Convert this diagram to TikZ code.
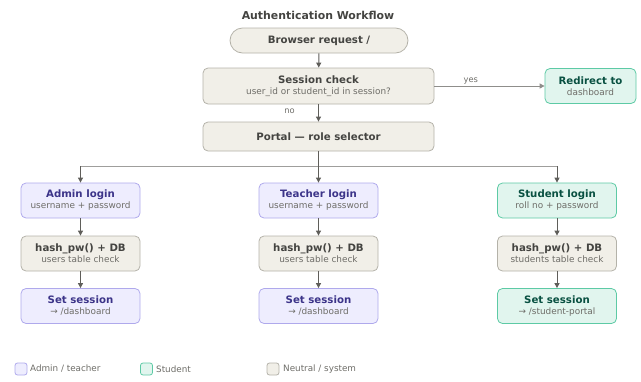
\documentclass[tikz,border=0pt]{standalone}
\usepackage{fontspec}
\setmainfont{DejaVu Sans}
\usetikzlibrary{arrows.meta}

\definecolor{neutralfill}{HTML}{F1EFE8}
\definecolor{neutralline}{HTML}{B4B2A9}
\definecolor{neutraltext}{HTML}{444441}
\definecolor{subtext}{HTML}{6E6D68}
\definecolor{adminfill}{HTML}{EEEDFE}
\definecolor{adminline}{HTML}{AFA9EC}
\definecolor{admintext}{HTML}{3C3489}
\definecolor{studentfill}{HTML}{E1F5EE}
\definecolor{studentline}{HTML}{5DCAA5}
\definecolor{studenttext}{HTML}{085041}
\definecolor{arrowgray}{HTML}{5F5E5A}

\newcommand{\boxtxt}[2]{{\fontsize{10.2}{11}\selectfont\bfseries #1}\\[-1pt]{\fontsize{8.9}{10}\selectfont\color{subtext}#2}}

\begin{document}
\begin{tikzpicture}[x=1pt,y=-1pt,
    base/.style={draw, line width=0.8pt, rounded corners=5pt, align=center,
        minimum width=119pt, minimum height=35pt, inner sep=1pt},
    neutral/.style={base, fill=neutralfill, draw=neutralline, text=neutraltext},
    admin/.style={base, fill=adminfill, draw=adminline, text=admintext},
    student/.style={base, fill=studentfill, draw=studentline, text=studenttext},
    flow/.style={draw=arrowgray, line width=1pt, -{Triangle[length=5pt,width=5pt]}},
    bus/.style={draw=arrowgray!60, line width=0.8pt},
    lbl/.style={font=\fontsize{8.3}{9}\selectfont, text=subtext},
    key/.style={draw, line width=0.8pt, rounded corners=2.5pt, minimum size=12pt, inner sep=0pt},
    keytxt/.style={anchor=west, font=\fontsize{8.8}{10}\selectfont, text=subtext, inner sep=0pt}]
    \useasboundingbox (0,0) rectangle (641,381);

    \node[font=\fontsize{10.9}{12}\selectfont\bfseries, text=neutraltext] (title) at (318,15) {Authentication Workflow};

    \node[neutral, rounded corners=12.5pt, minimum width=178pt, minimum height=25pt,
        font=\fontsize{10.2}{11}\selectfont\bfseries] (browser) at (319,40.5) {Browser request /};
    \node[neutral, minimum width=231pt, minimum height=36pt] (session) at (318.5,86) {\boxtxt{Session check}{user\_id or student\_id in session?}};
    \node[student, minimum width=91pt] (redirect) at (590.5,86) {\boxtxt{Redirect to}{dashboard}};
    \node[neutral, minimum width=231pt, minimum height=29pt,
        font=\fontsize{10.2}{11}\selectfont\bfseries] (portal) at (318.5,136.5) {Portal — role selector};

    \node[admin] (admin) at (80.5,200.5) {\boxtxt{Admin login}{username + password}};
    \node[neutral] (adminhash) at (80.5,253.5) {\boxtxt{hash\_pw() + DB}{users table check}};
    \node[admin] (adminset) at (80.5,306) {\boxtxt{Set session}{→ /dashboard}};

    \node[admin] (teacher) at (318.5,200.5) {\boxtxt{Teacher login}{username + password}};
    \node[neutral] (teacherhash) at (318.5,253.5) {\boxtxt{hash\_pw() + DB}{users table check}};
    \node[admin] (teacherset) at (318.5,306) {\boxtxt{Set session}{→ /dashboard}};

    \node[student] (student) at (557,200.5) {\boxtxt{Student login}{roll no + password}};
    \node[neutral] (studenthash) at (557,253.5) {\boxtxt{hash\_pw() + DB}{students table check}};
    \node[student] (studentset) at (557,306) {\boxtxt{Set session}{→ /student-portal}};

    \coordinate (split) at (318.5,166);
    \coordinate (adminsplit) at (80.5,166);
    \coordinate (studentsplit) at (557,166);

    \draw[flow] (browser) -- (session);
    \draw[flow] (session) -- node[lbl, left=20pt, pos=0.4] (no) {no} (portal);
    \draw[flow, draw=arrowgray!70] (session) -- node[lbl, above, inner sep=1pt, pos=0.33] (yes) {yes} (redirect);
    \draw[bus] (adminsplit) -- (studentsplit);
    \draw[flow] (portal) -- (teacher);
    \draw[flow] (adminsplit) -- (admin);
    \draw[flow] (studentsplit) -- (student);

    \draw[flow] (admin) -- (adminhash);
    \draw[flow] (adminhash) -- (adminset);
    \draw[flow] (teacher) -- (teacherhash);
    \draw[flow] (teacherhash) -- (teacherset);
    \draw[flow] (student) -- (studenthash);
    \draw[flow] (studenthash) -- (studentset);

    \node[key, fill=adminfill, draw=adminline] (keyadmin) at (21,369) {};
    \node[keytxt] (keyadmintxt) at (30,369) {Admin / teacher};
    \node[key, fill=studentfill, draw=studentline] (keystudent) at (146.5,369) {};
    \node[keytxt] (keystudenttxt) at (156,369) {Student};
    \node[key, fill=neutralfill, draw=neutralline] (keyneutral) at (273,369) {};
    \node[keytxt] (keyneutraltxt) at (283,369) {Neutral / system};
\end{tikzpicture}
\end{document}
